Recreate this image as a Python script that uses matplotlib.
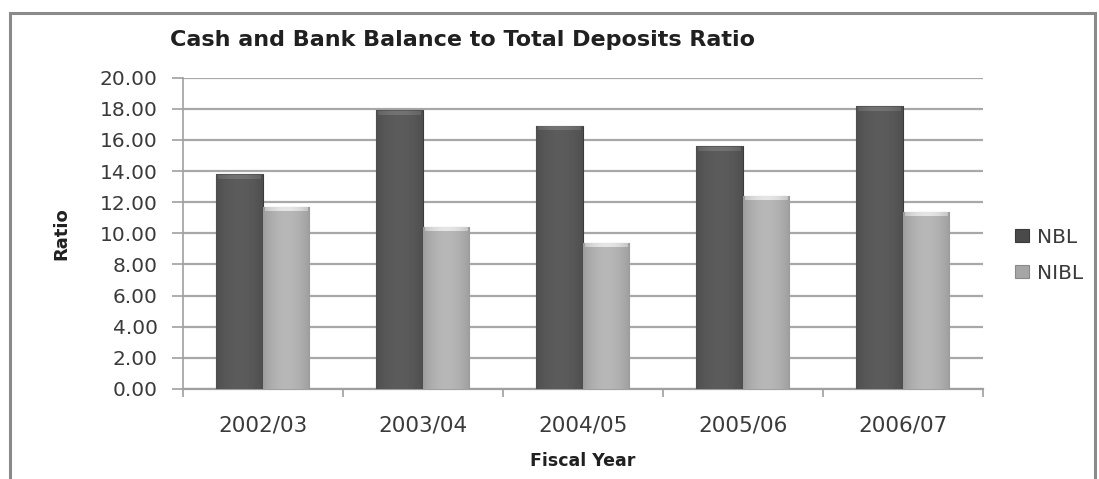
import matplotlib
matplotlib.use('Agg')
import matplotlib.pyplot as plt
from matplotlib.patches import Rectangle
import numpy as np

years = ['2002/03', '2003/04', '2004/05', '2005/06', '2006/07']
nbl = [13.8, 17.9, 16.9, 15.6, 18.15]
nibl = [11.7, 10.4, 9.4, 12.4, 11.4]
yticks = np.arange(0, 21, 2)

plt.rcParams['font.family'] = ['DejaVu Sans']

W, H = 1099, 479
fig = plt.figure(figsize=(W / 100, H / 100), dpi=100)
fig.patch.set_facecolor('white')

# outer chart frame
fig.patches.append(Rectangle((10 / W, -0.05), 1085 / W, 1 - 13 / H + 0.05,
                             transform=fig.transFigure, fill=False,
                             edgecolor='#8a8a8a', linewidth=2.2))

ax = fig.add_axes([182.7 / W, 1 - 389 / H, 800 / W, (389 - 77.7) / H])

x = np.arange(len(years))
w = 0.29


def cylinder(bars, base):
    # horizontal shading to look like the rounded excel bars
    t = np.linspace(0, 1, 64)
    shade = 0.62 + 0.38 * np.sin(np.pi * (0.15 + 0.7 * t)) ** 0.6
    img = np.clip(np.outer(np.ones(2), shade)[..., None] * np.array(base)[None, None, :], 0, 1)
    for b in bars:
        x0, y0 = b.get_x(), b.get_y()
        bw, bh = b.get_width(), b.get_height()
        im = ax.imshow(img, extent=[x0, x0 + bw, y0, y0 + bh], aspect='auto',
                       interpolation='bilinear', zorder=3)
        im.set_clip_path(b)
        # light rim at the top
        cap = np.clip(img * 1.25, 0, 1)
        ax.imshow(cap, extent=[x0 + bw * 0.04, x0 + bw * 0.96, y0 + bh - 0.28, y0 + bh - 0.05],
                  aspect='auto', interpolation='bilinear', zorder=4)


b1 = ax.bar(x - w / 2, nbl, w, color='#4a4a4a', edgecolor='#3a3a3a', linewidth=0.8,
            zorder=3, label='NBL')
b2 = ax.bar(x + w / 2, nibl, w, color='#a6a6a6', edgecolor='#8a8a8a', linewidth=0.8,
            zorder=3, label='NIBL')
cylinder(b1, (0.36, 0.36, 0.36))
cylinder(b2, (0.72, 0.72, 0.72))

ax.set_xlim(-0.5, len(years) - 0.5)
ax.set_ylim(0, 20)
ax.set_yticks(yticks)
ax.set_yticklabels([f'{v:.2f}' for v in yticks], fontsize=14.5, color='#3a3a3a')
ax.yaxis.grid(True, color='#a8a8a8', linewidth=1.6, zorder=0)
ax.set_axisbelow(True)

ax.set_xticks(x)
ax.set_xticklabels(years, fontsize=15.5, color='#3a3a3a')
ax.set_xticks(np.arange(-0.5, len(years), 1), minor=True)
ax.tick_params(axis='x', which='major', length=0, pad=19)
ax.tick_params(axis='x', which='minor', length=6, color='#a0a0a0', width=1.2)
ax.tick_params(axis='y', length=8, color='#a0a0a0', width=1.2, pad=10)

for s in ['top', 'right']:
    ax.spines[s].set_visible(False)
ax.spines['left'].set_color('#a0a0a0')
ax.spines['bottom'].set_color('#a0a0a0')
ax.spines['left'].set_linewidth(1.2)
ax.spines['bottom'].set_linewidth(1.6)

ax.set_ylabel('Ratio', fontsize=13, fontweight='bold', color='#202020', labelpad=21)
ax.set_xlabel('Fiscal Year', fontsize=12.5, fontweight='bold', color='#202020', labelpad=12)

fig.text(170 / W, 1 - 40 / H, 'Cash and Bank Balance to Total Deposits Ratio',
         fontsize=16, fontweight='bold', color='#202020', ha='left', va='center')

leg = ax.legend(handles=[b1, b2], loc='center left', bbox_to_anchor=(1.018, 0.43),
                frameon=False, fontsize=14.5, handlelength=0.7, handleheight=0.6,
                labelspacing=0.85, handletextpad=0.4)
for t in leg.get_texts():
    t.set_color('#3a3a3a')

fig.savefig('out.png', dpi=100)
